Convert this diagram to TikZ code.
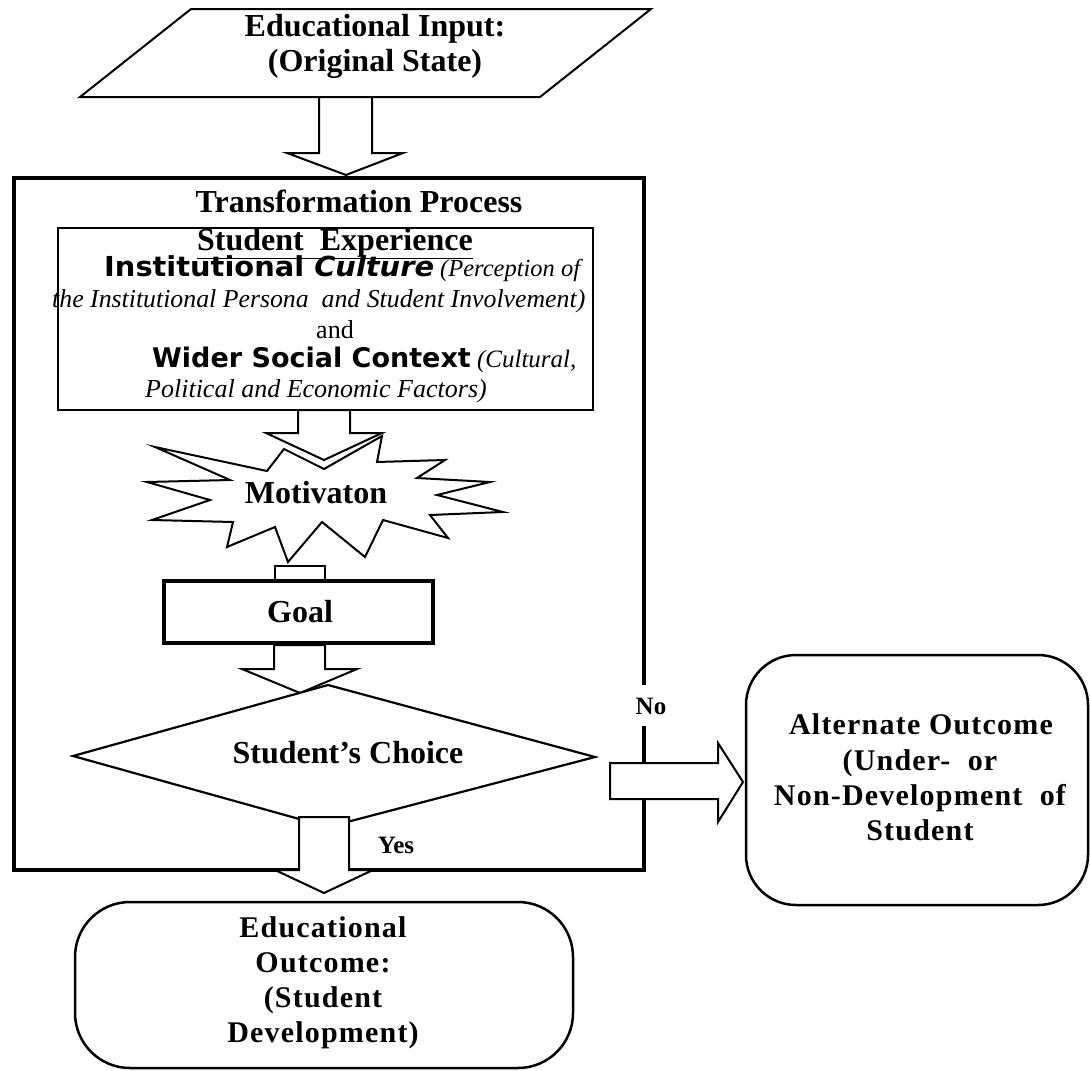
\documentclass[tikz,border=0pt]{standalone}
\usepackage{fontspec}
\setmainfont{Liberation Serif}
\newfontfamily\vsans{DejaVu Sans}[BoldFont={DejaVu Sans Bold},BoldItalicFont={DejaVu Sans Bold Oblique}]
\newfontfamily\spacedserif{Liberation Serif}[LetterSpace=4]
\begin{document}
\begin{tikzpicture}[x=1pt,y=-1pt,
  thin line/.style={draw=black,line width=2pt,line join=miter},
  blockarrow/.style={draw=black,fill=white,line width=2pt,line join=miter},
  heavy/.style={draw=black,line width=4.5pt,line join=miter},
  bigtext/.style={font=\fontsize{32}{36}\selectfont\bfseries,inner sep=0pt,anchor=base},
  labeltext/.style={font=\fontsize{25}{28}\selectfont\bfseries,inner sep=0pt,anchor=base},
  outtext/.style={font=\spacedserif\fontsize{30}{34}\selectfont\bfseries,inner sep=0pt,anchor=base},
  linetext/.style={inner sep=0pt,anchor=base west}
]
\useasboundingbox (0,0) rectangle (1090,1071);

% ---------- Input parallelogram ----------
\draw[thin line] (80,97) -- (191,9) -- (651,9) -- (540,97) -- cycle;
\node[bigtext] (in1) at (375,36) {Educational Input:};
\node[bigtext] (in2) at (375,71) {(Original State)};

% ---------- Transformation box ----------
\draw[heavy] (14,178) rectangle (644,870);
\node[bigtext] (tp) at (359,212) {Transformation Process};

% arrow input -> process
\draw[blockarrow] (319,97) -- (372,97) -- (372,153) -- (403,153) -- (346,175) -- (287,153) -- (319,153) -- cycle;

% ---------- Student experience box ----------
\draw[line width=2.2pt] (58,228) rectangle (593,410);
\node[linetext] (se) at (197,250) {\fontsize{32}{36}\selectfont\bfseries\underline{Student\ \ Experience}};
\node[linetext] (ic) at (104,276) {\scalebox{1.05}[1]{\vsans\bfseries\fontsize{27.5}{30}\selectfont Institutional \itshape Culture}{\itshape\fontsize{24.5}{28}\selectfont\ (Perception of}};
\node[linetext] (ip) at (52,307) {\itshape\fontsize{25.8}{28}\selectfont the Institutional Persona\ \ and Student Involvement)};
\node[inner sep=0pt,anchor=base] (and) at (335,338) {\fontsize{26}{28}\selectfont and};
\node[linetext] (ws) at (152,367) {{\vsans\bfseries\fontsize{27}{30}\selectfont Wider Social Context}{\itshape\fontsize{25}{28}\selectfont\ (Cultural,}};
\node[linetext] (pe) at (145,397) {\itshape\fontsize{26}{28}\selectfont Political and Economic Factors)};

% ---------- Motivation star ----------
\draw[blockarrow] (155,447) -- (267,471) -- (284,449) -- (324,469) -- (382,436) -- (377,462)
  -- (445,460) -- (417,478) -- (490,482) -- (437,495) -- (503,512) -- (430,515)
  -- (448,538) -- (383,520) -- (365,557) -- (322,522) -- (288,562) -- (275,527)
  -- (227,547) -- (233,522) -- (152,520) -- (210,500) -- (147,482) -- (230,480) -- cycle;
\node[bigtext] (mot) at (316,503) {Motivaton};

% arrow experience -> motivation
\draw[blockarrow] (298,410) -- (350,410) -- (350,433) -- (382,433) -- (324,460) -- (266,433) -- (298,433) -- cycle;

% ---------- Goal ----------
\draw[blockarrow] (275,566) rectangle (325,581);
\draw[heavy,fill=white] (164,581) rectangle (433,643);
\node[bigtext] (goal) at (300,622) {Goal};

% arrow goal -> choice
\draw[blockarrow] (274,645) -- (325,645) -- (325,669) -- (357,669) -- (300,693) -- (242,669) -- (274,669) -- cycle;

% ---------- Choice diamond ----------
\draw[blockarrow,line width=2.2pt] (73,756) -- (328,685) -- (595,757) -- (328,827) -- cycle;
\node[bigtext] (choice) at (348,763) {Student’s Choice};

% arrow yes -> outcome
\draw[blockarrow] (299,817) -- (349,817) -- (349,870) -- (373,870) -- (324,893) -- (275,870) -- (299,870) -- cycle;
\node[labeltext] (yes) at (396,853) {Yes};

% arrow no -> alternate
\fill[white] (638,685) rectangle (650,726);
\node[labeltext] (no) at (651,714) {No};
\draw[blockarrow] (610,763) -- (718,763) -- (718,743) -- (743,782) -- (718,822) -- (718,799) -- (610,799) -- cycle;

% ---------- Alternate outcome ----------
\draw[line width=2.5pt,rounded corners=50pt] (746,655) rectangle (1088,905);
\node[outtext] (ao1) at (921,734) {Alternate Outcome};
\node[outtext] (ao2) at (920,770) {(Under-\ \ or};
\node[outtext] (ao3) at (920,805) {Non-Development\ \ of};
\node[outtext] (ao4) at (920,840) {Student};

% ---------- Educational outcome ----------
\draw[line width=2.5pt,rounded corners=55pt] (75,902) rectangle (573,1068);
\node[outtext] (eo1) at (323,937) {Educational};
\node[outtext] (eo2) at (323,972) {Outcome:};
\node[outtext] (eo3) at (323,1007) {(Student};
\node[outtext] (eo4) at (323,1042) {Development)};
\end{tikzpicture}
\end{document}
